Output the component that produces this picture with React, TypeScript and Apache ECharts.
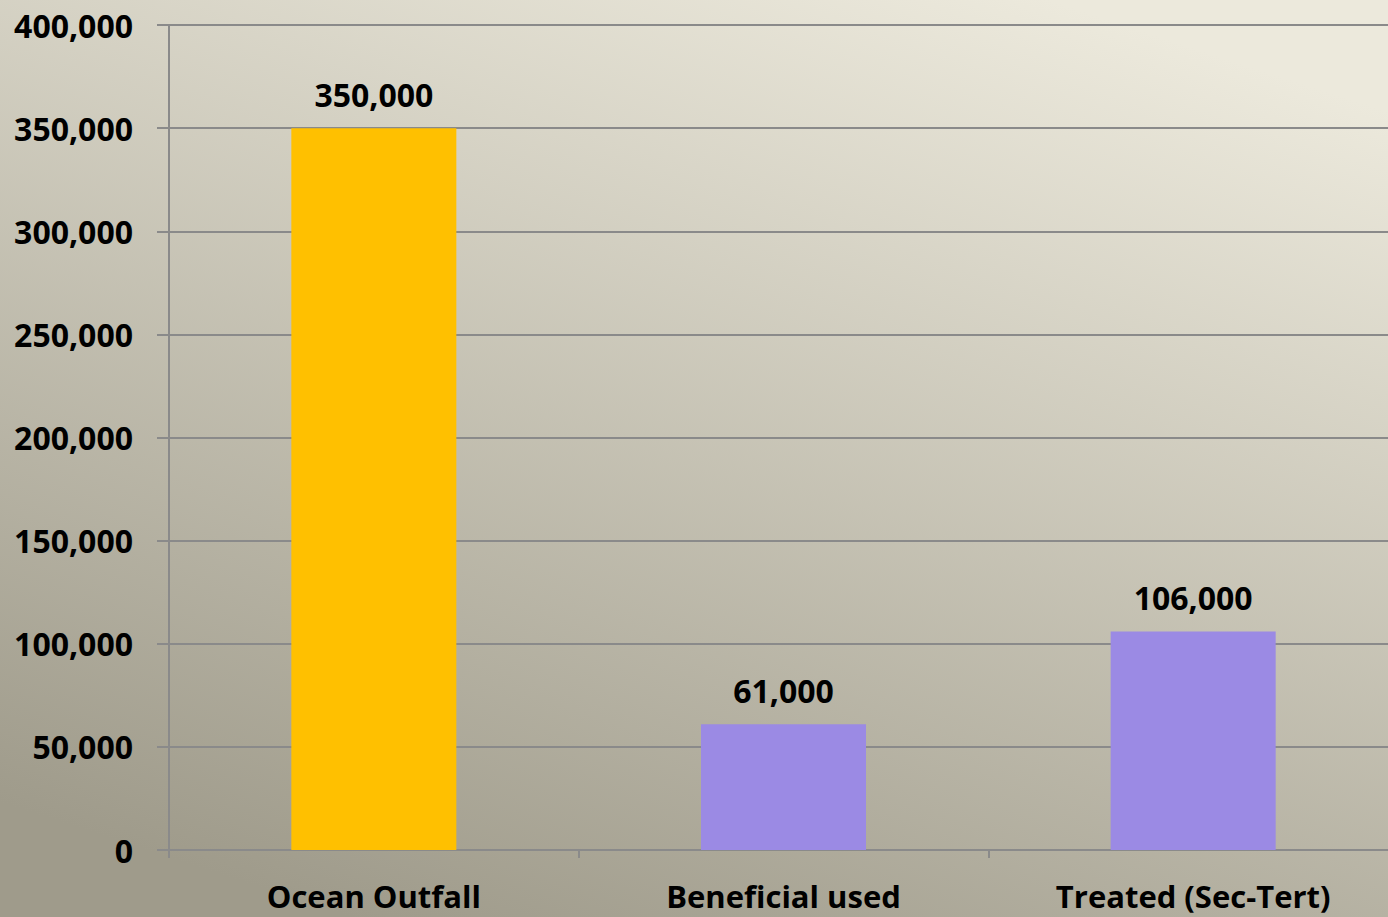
import React, { useEffect, useRef } from "react";
import * as echarts from "echarts";

const categories = ["Ocean Outfall", "Beneficial used", "Treated (Sec-Tert)"];
const values = [350000, 61000, 106000];
const barColors = ["#FFC000", "#9B8AE4", "#9B8AE4"];
const yMin = 0;
const yMax = 400000;
const yInterval = 50000;

const fmt = (v: number) => v.toLocaleString("en-US");

export default function App() {
  const ref = useRef<HTMLDivElement>(null);
  useEffect(() => {
    if (!ref.current) return;
    const chart = echarts.init(ref.current, undefined, { renderer: "svg" });
    const font = "'Open Sans', Lato, sans-serif";
    chart.setOption({
      animation: false,
      backgroundColor: {
        type: "linear",
        x: 0.75,
        y: 0,
        x2: 0.25,
        y2: 1,
        colorStops: [
          { offset: 0, color: "#ece9dc" },
          { offset: 1, color: "#9f9b8b" },
        ],
      },
      grid: { left: 169, top: 25, bottom: 67, right: 0 },
      xAxis: {
        type: "category",
        data: categories,
        axisLine: { show: true, lineStyle: { color: "#8a8a8a", width: 2 } },
        axisTick: { show: true, length: 8, lineStyle: { color: "#8a8a8a", width: 2 } },
        axisLabel: {
          color: "#000",
          fontFamily: font,
          fontWeight: "bold",
          fontSize: 31,
          margin: 30,
        },
      },
      yAxis: {
        type: "value",
        min: yMin,
        max: yMax,
        interval: yInterval,
        axisLine: { show: true, lineStyle: { color: "#8a8a8a", width: 2 } },
        axisTick: { show: true, length: 12, lineStyle: { color: "#8a8a8a", width: 2 } },
        splitLine: { show: true, lineStyle: { color: "#8a8a8a", width: 2 } },
        axisLabel: {
          color: "#000",
          fontFamily: font,
          fontWeight: "bold",
          fontSize: 32,
          margin: 36,
          padding: [0, 0, 5, 0],
          formatter: (v: number) => fmt(v),
        },
      },
      series: [
        {
          type: "bar",
          barWidth: 165,
          data: values.map((v, i) => ({ value: v, itemStyle: { color: barColors[i] } })),
          label: {
            show: true,
            position: "top",
            distance: 18,
            color: "#000",
            fontFamily: font,
            fontWeight: "bold",
            fontSize: 32,
            formatter: (p: any) => fmt(p.value),
          },
        },
      ],
    });
    return () => chart.dispose();
  }, []);
  return (
    <div style={{ position: "fixed", left: 0, top: 0, width: 1388, height: 917, overflow: "hidden" }}>
      <div ref={ref} style={{ width: 1398, height: 917 }} />
    </div>
  );
}
